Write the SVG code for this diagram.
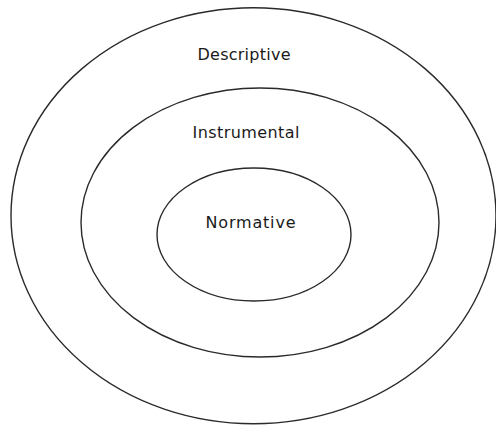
<svg xmlns="http://www.w3.org/2000/svg" width="496" height="426" viewBox="0 0 496 426">
<style>
.ring{fill:none;stroke:#2a2a2a;stroke-width:1.4}
.lbl{font-family:"DejaVu Sans","Liberation Sans",sans-serif;font-size:16px;fill:#1a1a1a;text-anchor:middle}
</style>
<rect width="496" height="426" fill="#fff"/>
<g id="descriptive">
<ellipse class="ring" cx="253.5" cy="215.7" rx="242.5" ry="208"/>
<text class="lbl" x="244" y="60" textLength="93" lengthAdjust="spacing">Descriptive</text>
</g>
<g id="instrumental">
<ellipse class="ring" cx="260" cy="222.5" rx="179" ry="134.5"/>
<text class="lbl" x="246" y="138" textLength="107" lengthAdjust="spacing">Instrumental</text>
</g>
<g id="normative">
<ellipse class="ring" cx="254" cy="234.5" rx="97" ry="66.5"/>
<text class="lbl" x="250.5" y="228" textLength="90" lengthAdjust="spacing">Normative</text>
</g>
<g id="connectors"/>
</svg>
